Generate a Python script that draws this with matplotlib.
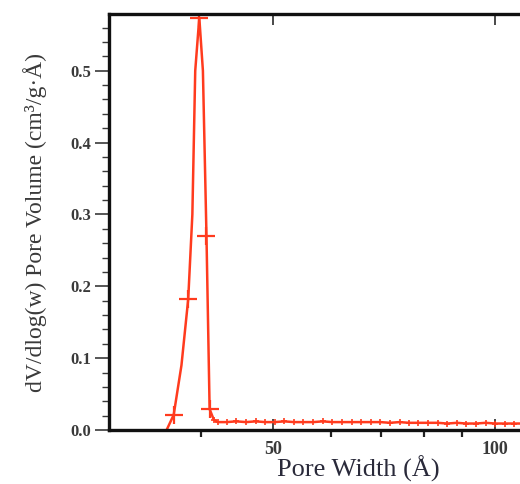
import matplotlib.pyplot as plt
from matplotlib.ticker import MultipleLocator, NullFormatter

# pore width (A) and dV/dlog(w) pore volume (cm3/g.A)
width = [35.9, 36.7, 37.6, 38.4, 38.9, 39.25, 39.75, 40.2, 40.65, 41.05,
         41.6, 42.1, 43.3, 44.6, 46.0, 47.4, 48.8, 50.3, 51.8, 53.4, 55.0,
         56.7, 58.4, 60.2, 62.0, 63.9, 65.8, 67.8, 69.9, 72.0, 74.2,
         76.4, 78.7, 81.1, 83.6, 86.1, 88.7, 91.4, 94.2, 97.0, 100.0,
         103.0, 106.1, 109.3]
volume = [0.0, 0.021, 0.09, 0.182, 0.30, 0.50, 0.574, 0.50, 0.27, 0.029,
          0.014, 0.011, 0.011, 0.012, 0.011, 0.012, 0.011, 0.011, 0.012, 0.011, 0.011,
          0.011, 0.012, 0.011, 0.011, 0.011, 0.011, 0.011, 0.011, 0.010, 0.011,
          0.010, 0.010, 0.010, 0.010, 0.009, 0.010, 0.009, 0.009, 0.010, 0.009,
          0.009, 0.009, 0.009]
big_marks = [1, 3, 6, 8, 9]

xticks = [50, 100]
xminor = [40, 60, 70, 80, 90]

red = '#ff3b1e'
grey = '#3a3a3a'
serif = ['Liberation Serif', 'DejaVu Serif']

fig = plt.figure(figsize=(5.2, 4.84), dpi=100)
ax = fig.add_axes([109 / 520, 54 / 484, 411 / 520, 416 / 484])

ax.plot(width, volume, color=red, lw=1.8)
# big crosses on the peak, small ones on the flat tail
ax.plot([width[i] for i in big_marks], [volume[i] for i in big_marks], '+',
        color=red, ms=13, mew=1.6)
ax.plot(width[10:], volume[10:], '+', color=red, ms=5, mew=1.2)

ax.set_xscale('log')
ax.set_xlim(30, 108)
ax.set_ylim(0, 0.579)

ax.set_xticks(xticks, [str(t) for t in xticks])
ax.set_xticks(xminor, minor=True)
ax.xaxis.set_minor_formatter(NullFormatter())
ax.yaxis.set_major_locator(MultipleLocator(0.1))
ax.yaxis.set_minor_locator(MultipleLocator(0.02))
ax.yaxis.set_major_formatter(plt.FormatStrFormatter('%.1f'))

ax.tick_params(axis='x', which='major', direction='in', length=8, width=1.3,
               top=True, color=grey, pad=8)
ax.tick_params(axis='x', which='minor', direction='out', length=5, width=1.6,
               top=False, color='#222222')
ax.tick_params(axis='y', which='major', direction='out', length=10, width=1.2,
               color=grey, pad=3)
ax.tick_params(axis='y', which='minor', direction='out', length=5, width=1.0,
               color=grey)

for lab in ax.get_xticklabels() + ax.get_yticklabels():
    lab.set_family(serif)
    lab.set_fontweight('bold')
    lab.set_color(grey)
for lab in ax.get_yticklabels():
    lab.set_fontsize(12)
for lab in ax.get_xticklabels():
    lab.set_fontsize(13)

for side in ['left', 'bottom', 'top']:
    ax.spines[side].set_linewidth(2.4)
    ax.spines[side].set_color('#111111')
ax.spines['right'].set_visible(False)

ax.set_ylabel('dV/dlog(w) Pore Volume (cm³/g·Å)', family=serif,
              fontsize=17, color=grey)
ax.yaxis.set_label_coords(-0.15, 0.5)
ax.set_xlabel('Pore Width (Å)', family=serif, fontsize=19, color='#2a2a3a',
              va='baseline')
ax.xaxis.set_label_coords(0.607, -0.111)

fig.savefig('out.png', dpi=100)
